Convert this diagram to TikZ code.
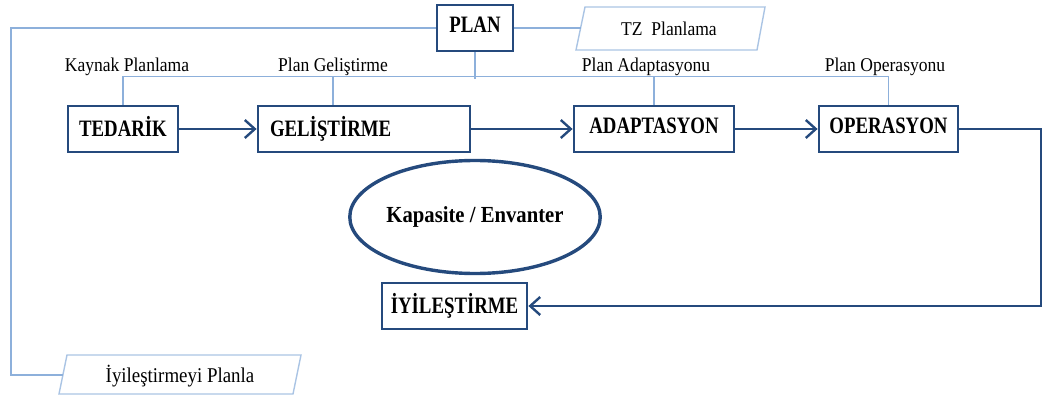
\documentclass[tikz,border=0pt]{standalone}
\usepackage{fontspec}
\setmainfont{Liberation Serif}
\newfontfamily\boxfont[FakeStretch=0.8]{Liberation Serif}
\newfontfamily\ovalfont[FakeStretch=0.9]{Liberation Serif}
\newfontfamily\notefont[FakeStretch=0.9]{Liberation Serif}
\usetikzlibrary{arrows.meta,shapes.geometric}
\definecolor{boxblue}{RGB}{37,74,125}
\definecolor{linkblue}{RGB}{141,176,219}
\definecolor{paneblue}{RGB}{170,196,228}
\begin{document}
\begin{tikzpicture}[x=1pt,y=-1pt,
  stage/.style={draw=boxblue,line width=2.8pt,inner sep=0pt,minimum height=46pt,
    text depth=6pt,font=\boxfont\bfseries\fontsize{23.5}{25}\selectfont},
  flow/.style={draw=boxblue,line width=2.6pt,
    -{Straight Barb[length=10pt,width=18pt,line width=2.4pt]}},
  link/.style={draw=linkblue,line width=1.7pt},
  pane/.style={draw=paneblue,line width=1.4pt},
  lbl/.style={font=\notefont\fontsize{19.5}{21}\selectfont,inner sep=0pt,anchor=base}]
\useasboundingbox (0,0) rectangle (1044,396);

% process boxes
\node[stage,minimum width=76pt]  (plan)   at (475,28)    {PLAN};
\node[stage,minimum width=110pt] (tedarik) at (123,129)  {TEDARİK};
\node[stage,text width=188pt,inner xsep=12pt,align=left] (gelis) at (364,129) {GELİŞTİRME};
\node[stage,minimum width=160pt] (adapt)  at (654,129)   {ADAPTASYON};
\node[stage,minimum width=139pt] (oper)   at (888.5,129) {OPERASYON};
\node[stage,minimum width=145pt] (iyi)    at (454.5,306) {İYİLEŞTİRME};
\node[ellipse,draw=boxblue,line width=3.4pt,minimum width=215pt,minimum height=113pt,
  inner sep=0pt,font=\ovalfont\bfseries\fontsize{23}{25}\selectfont] (kap) at (475,217) {Kapasite / Envanter};

% planning side notes (parallelograms)
\draw[pane] (585,7) -- (765,7) -- (757,50) -- (576,50) -- cycle;
\node[lbl] (tz) at (669,36) {TZ\ \ Planlama};
\coordinate (tzL) at (580.5,28);
\draw[pane] (67,355) -- (301,355) -- (293,394) -- (59,394) -- cycle;
\node[lbl,font=\notefont\fontsize{21}{23}\selectfont] (ipl) at (180,382) {İyileştirmeyi Planla};
\coordinate (iplL) at (63,375);

% planning links
\draw[link] (plan.east) -- (tzL);
\draw[link] (plan.west) -| (11,375) -- (iplL);
\draw[link] (plan.south) -- ++(0,27);
\draw[link] (tedarik.north) -- ++(0,-28) -| (oper.north);
\draw[link] ([xshift=-31pt]gelis.north) -- ++(0,-28);
\draw[link] (adapt.north) -- ++(0,-28);

% link labels
\node[lbl] (lk) at (127,72) {Kaynak Planlama};
\node[lbl] (lg) at (333,72) {Plan Geliştirme};
\node[lbl] (la) at (646,72) {Plan Adaptasyonu};
\node[lbl] (lo) at (885,72) {Plan Operasyonu};

% process flow
\draw[flow] (tedarik) -- (gelis);
\draw[flow] (gelis) -- (adapt);
\draw[flow] (adapt) -- (oper);
\draw[flow] (oper.east) -- (1041,129) |- (iyi.east);
\end{tikzpicture}
\end{document}
